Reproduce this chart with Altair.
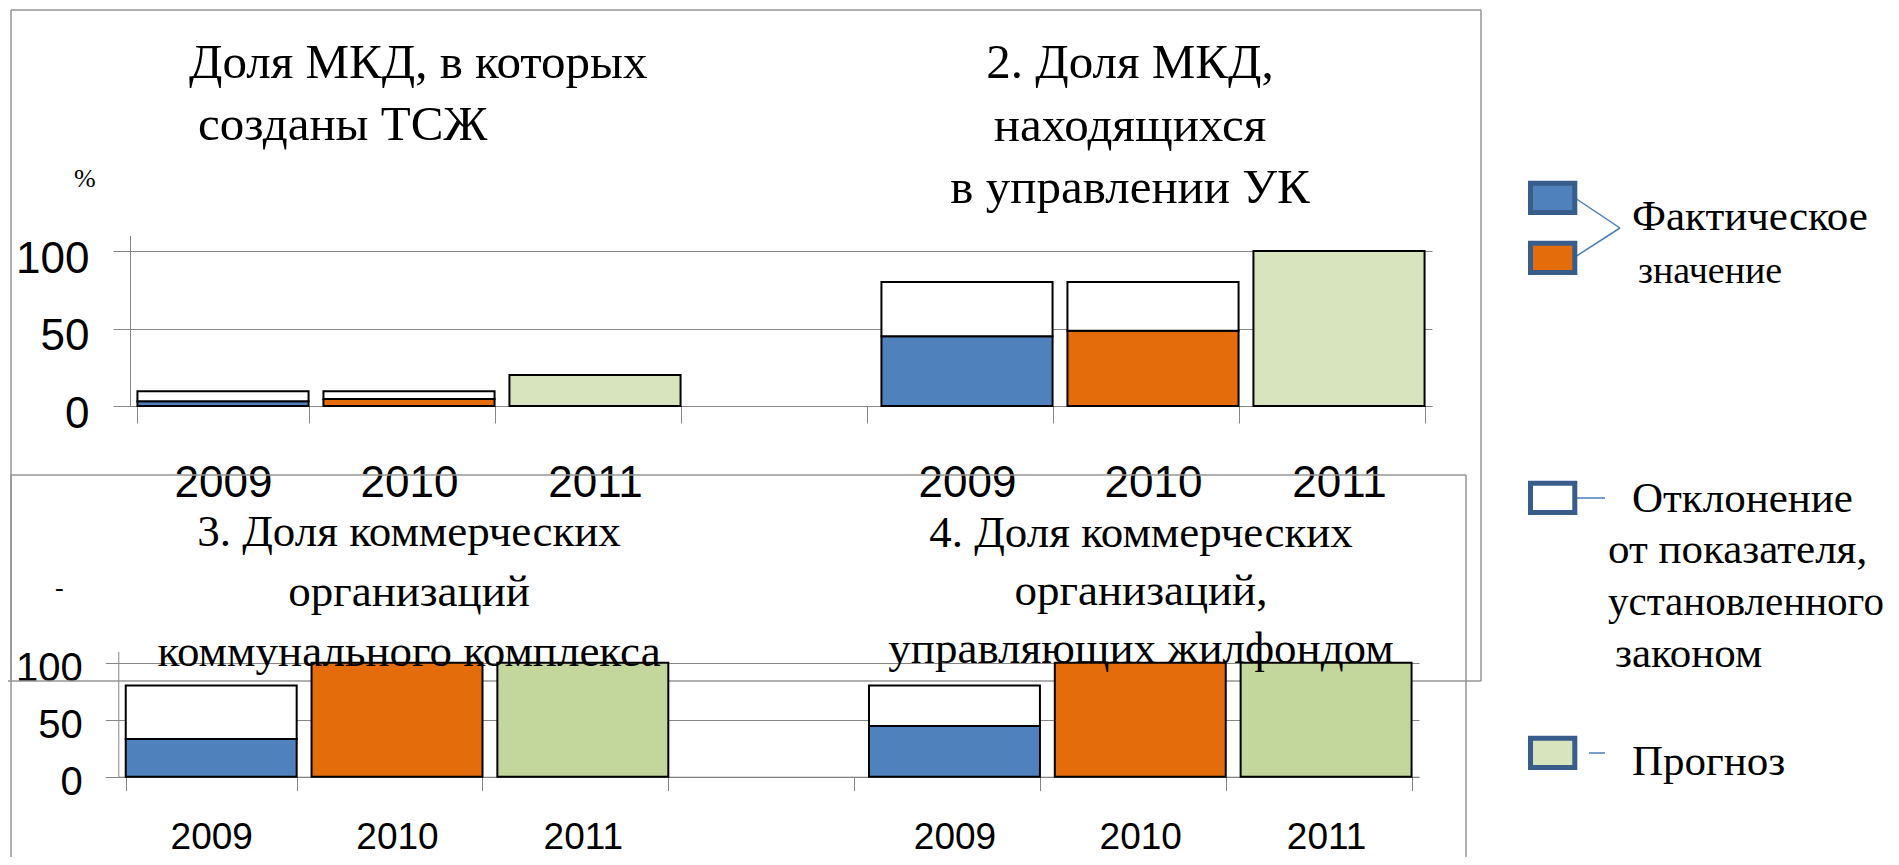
import altair as alt
import pandas as pd

# ---------------- data ----------------
top_cats = ["1-2009", "1-2010", "1-2011", "gap", "2-2009", "2-2010", "2-2011"]
top_fact = [3, 4.5, None, None, 45, 48.5, None]
top_norm = [9.5, 9.5, None, None, 80, 80, None]
top_forecast = [None, None, 20, None, None, None, 100]

bot_cats = ["3-2009", "3-2010", "3-2011", "gap", "4-2009", "4-2010", "4-2011"]
bot_fact = [33, 100, None, None, 44.5, 100, None]
bot_norm = [80, None, None, None, 80, None, None]
bot_forecast = [None, None, 100, None, None, None, 100]

y_ticks = [0, 50, 100]
series_names = ["Факт 2009", "Факт 2010", "Отклонение", "Прогноз"]

title1 = ["Доля МКД, в которых", "созданы ТСЖ"]
title2 = ["2. Доля МКД,", "находящихся", "в управлении УК"]
title3 = ["3. Доля коммерческих", "организаций", "коммунального комплекса"]
title4 = ["4. Доля коммерческих", "организаций,", "управляющих жилфондом"]
legend_fact = ["Фактическое", "значение"]
legend_dev = ["Отклонение", "от показателя,", "установленного", "законом"]
legend_fc = ["Прогноз"]

# ---------------- styles ----------------
BLUE = "#4F81BD"
ORANGE = "#E46C0A"
GREEN_TOP = "#D7E4BD"
GREEN_BOT = "#C3D69B"
GRID = "#868686"
FRAME = "#969696"
LEG_BORDER = "#385D8A"
LEG_LINE = "#4A7EBB"
SANS = "Liberation Sans"
SERIF = "Liberation Serif"


def bars_df(cats, fact, norm, forecast):
    rows = []
    for c, f, n, p in zip(cats, fact, norm, forecast):
        year = c.split("-")[-1]
        if f is not None:
            rows.append({"cat": c, "series": "Факт " + year, "lo": 0, "hi": f})
        if n is not None:
            rows.append({"cat": c, "series": "Отклонение", "lo": f, "hi": n})
        if p is not None:
            rows.append({"cat": c, "series": "Прогноз", "lo": 0, "hi": p})
    return pd.DataFrame(rows)


LABEL_EXPR = "(datum.value && indexof(datum.value, '-') >= 0) ? split(datum.value, '-')[1] : ''"


def bar_chart(df, cats, xr, yr, green, x_off, y_off, tick_x, tick_y,
              xfs, yfs, xpad, ypad, ylaboff):
    return alt.Chart(df).mark_bar(stroke="black", strokeWidth=2).encode(
        x=alt.X("cat:N", sort=cats,
                scale=alt.Scale(domain=cats, range=xr, paddingInner=0.08, paddingOuter=0.04),
                axis=alt.Axis(orient="bottom", offset=x_off, title=None, labelExpr=LABEL_EXPR,
                              tickBand="extent", tickSize=tick_x, tickColor=GRID, tickWidth=1,
                              domainColor=GRID, domainWidth=1, labelFont=SANS,
                              labelFontSize=xfs, labelColor="black", labelPadding=xpad,
                              labelAngle=0, grid=False, labelOverlap=False)),
        y=alt.Y("lo:Q",
                scale=alt.Scale(domain=[0, 110], range=yr, nice=False, zero=True),
                axis=alt.Axis(orient="left", offset=y_off, title=None, values=y_ticks,
                              tickSize=tick_y, tickColor=GRID, tickWidth=1,
                              domainColor=GRID, domainWidth=1, grid=True, gridColor=GRID,
                              gridWidth=1, labelFont=SANS, labelFontSize=yfs,
                              labelColor="black", labelPadding=ypad, labelOffset=ylaboff,
                              labelOverlap=False, labelFlush=False)),
        y2="hi:Q",
        color=alt.Color("series:N",
                        scale=alt.Scale(domain=series_names,
                                        range=[BLUE, ORANGE, "white", green]),
                        legend=None),
    )


ONE = alt.Data(values=[{"k": 1}])


def rule(x1, y1, x2, y2, color=FRAME, width=1.5):
    return alt.Chart(ONE).mark_rule(color=color, strokeWidth=width).encode(
        x=alt.value(x1), y=alt.value(y1), x2=alt.value(x2), y2=alt.value(y2))


def text(lines, x, y, size, align="left", lh=None, font=SERIF):
    props = dict(text=lines, align=align, baseline="alphabetic", font=font,
                 fontSize=size, color="black")
    if lh is not None:
        props["lineHeight"] = lh
    return alt.Chart(ONE).mark_text(**props).encode(x=alt.value(x), y=alt.value(y))


def swatch(fill, y1, y2):
    return alt.Chart(ONE).mark_rect(fill=fill, stroke=LEG_BORDER, strokeWidth=5).encode(
        x=alt.value(1522.5), x2=alt.value(1566.8), y=alt.value(y1), y2=alt.value(y2))


top_df = bars_df(top_cats, top_fact, top_norm, top_forecast)
bot_df = bars_df(bot_cats, bot_fact, bot_norm, bot_forecast)

top_bars = bar_chart(top_df, top_cats, [122, 1424], [398, 227.5], GREEN_TOP,
                     x_off=398 - 849, y_off=-122, tick_x=17, tick_y=17,
                     xfs=44, yfs=44, xpad=38, ypad=24, ylaboff=8)
bot_bars = bar_chart(bot_df, bot_cats, [110.3, 1411], [768.7, 643.3], GREEN_BOT,
                     x_off=768.7 - 849, y_off=-110.3, tick_x=14, tick_y=13,
                     xfs=37, yfs=40, xpad=29, ypad=23, ylaboff=6)

frames = [
    rule(3, 2, 1473, 2), rule(3, 2, 3, 673), rule(1473, 2, 1473, 673), rule(-8, 673, 1473, 673),
    rule(3, 467, 1458, 467), rule(3, 467, 3, 860), rule(1458, 467, 1458, 860),
]

titles = [
    text([title1[0]], 181, 70, 49),
    text([title1[1]], 190, 132, 49),
    text(title2, 1122, 70, 49, align="center", lh=62.5),
    text(["%"], 66, 179, 26),
    text(title3, 401, 538, 45, align="center", lh=60),
    text(title4, 1133, 539, 45, align="center", lh=58),
    text(["-"], 47, 588, 26),
]

legend = [
    rule(1567, 190, 1612, 220, LEG_LINE, 1.5), rule(1612, 220, 1567, 249, LEG_LINE, 1.5),
    rule(1567, 490, 1597, 490, LEG_LINE, 1.5), rule(1581, 745, 1597, 745, LEG_LINE, 1.5),
    swatch(BLUE, 175.2, 204.5), swatch(ORANGE, 235.2, 264.5),
    swatch("white", 475.2, 504.5), swatch(GREEN_TOP, 730.2, 759.5),
    text([legend_fact[0]], 1624, 222, 43),
    text([legend_fact[1]], 1630, 275, 38),
    text([legend_dev[0]], 1624, 504, 43),
    text([legend_dev[1]], 1600, 555, 43),
    text([legend_dev[2]], 1600, 607, 41),
    text([legend_dev[3]], 1607, 659, 43),
    text([legend_fc[0]], 1624, 767, 43),
]

chart = alt.layer(
    *frames, top_bars, bot_bars, *titles, *legend
).resolve_scale(
    x="independent", y="independent", color="independent"
).resolve_axis(
    x="independent", y="independent"
).properties(
    width=1883, height=849,
    autosize=alt.AutoSizeParams(type="none"), padding=0,
).configure_view(strokeWidth=0)

chart.save("out.html", embed_options={"renderer": "svg", "actions": False})
